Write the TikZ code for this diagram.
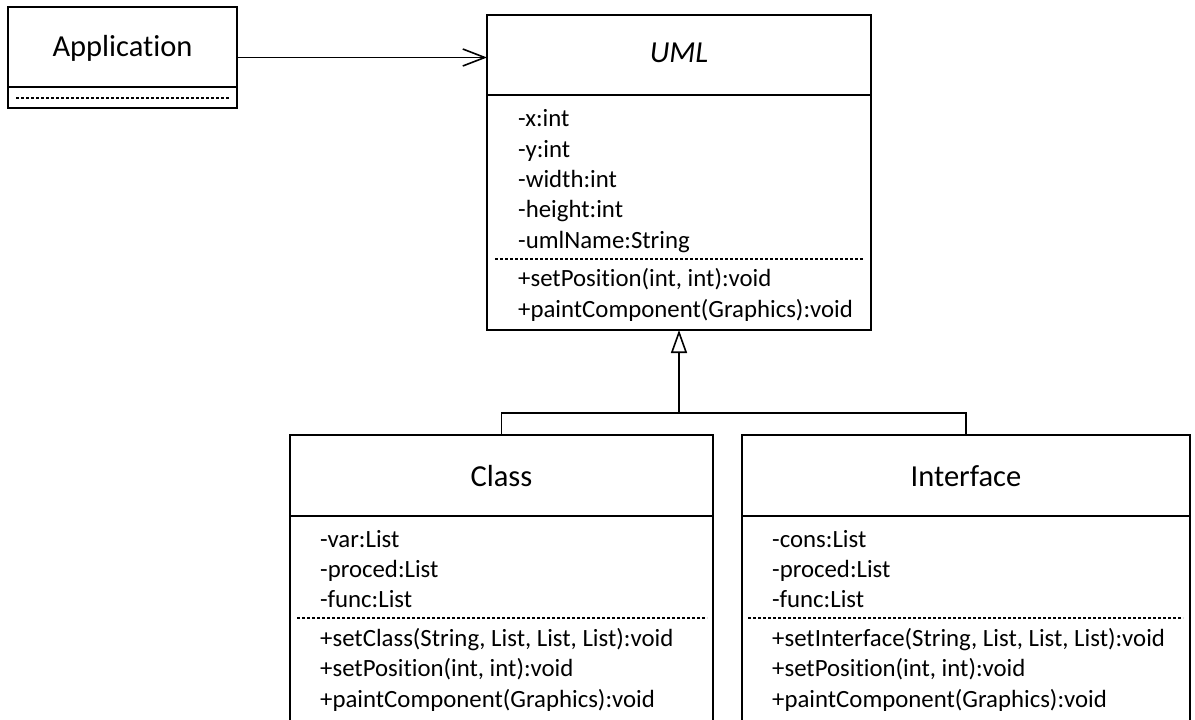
\documentclass[tikz,border=0pt]{standalone}
\usepackage{fontspec}
\setmainfont{Carlito}[Ligatures=NoCommon]
\usetikzlibrary{arrows.meta}
\begin{document}
\begin{tikzpicture}[x=1pt,y=-1pt,
  box/.style={draw,line width=1.8pt,rectangle,inner sep=0pt,outer sep=0pt,anchor=north west},
  title/.style={font=\fontsize{30.5}{36}\selectfont,anchor=base,inner sep=0pt},
  member/.style={font=\fontsize{24.8}{30}\selectfont,anchor=base west,inner sep=0pt},
  sep/.style={line width=1.8pt},
  dots/.style={line width=1.1pt,dash pattern=on 3pt off 2pt},
  assoc/.style={line width=1.6pt,-{Straight Barb[length=22pt,width=17pt,line width=1.6pt]}},
  gen/.style={line width=1.6pt,-{Triangle[open,length=23pt,width=16pt,line width=1.6pt]}},
  link/.style={line width=1.6pt}]
\useasboundingbox (0,0) rectangle (1195,720);

% Application class
\node[box,minimum width=229pt,minimum height=101pt] (app) at (8,7) {};
\draw[sep] (app.west |- 0,87) -- (app.east |- 0,87);
\draw[dots] (16,98) -- (229,98);
\node[title] at (app.north |- 0,56) {Application};

% UML abstract class
\node[box,minimum width=384pt,minimum height=315pt] (uml) at (487,15) {};
\draw[sep] (uml.west |- 0,95) -- (uml.east |- 0,95);
\node[title,font=\fontsize{30.5}{36}\selectfont\itshape] at (uml.north |- 0,62) {UML};
\node[member] at (518,126) {-x:int};
\node[member] at (518,157) {-y:int};
\node[member] at (518,187) {-width:int};
\node[member] at (518,217) {-height:int};
\node[member] at (518,248) {-umlName:String};
\draw[dots] (495,259) -- (863,259);
\node[member] at (518,286) {+setPosition(int, int):void};
\node[member] at (518,317) {+paintComponent(Graphics):void};

% Class
\node[box,minimum width=423pt,minimum height=300pt] (cls) at (290,435) {};
\draw[sep] (cls.west |- 0,516) -- (cls.east |- 0,516);
\node[title] at (cls.north |- 0,486) {Class};
\node[member] at (320,547) {-var:List};
\node[member] at (320,577) {-proced:List};
\node[member] at (320,607) {-func:List};
\draw[dots] (297,618) -- (707,618);
\node[member] at (320,646) {+setClass(String, List, List, List):void};
\node[member] at (320,676) {+setPosition(int, int):void};
\node[member] at (320,707) {+paintComponent(Graphics):void};

% Interface
\node[box,minimum width=448pt,minimum height=300pt] (ifc) at (742,435) {};
\draw[sep] (ifc.west |- 0,516) -- (ifc.east |- 0,516);
\node[title] at (ifc.north |- 0,486) {Interface};
\node[member] at (772,547) {-cons:List};
\node[member] at (772,577) {-proced:List};
\node[member] at (772,607) {-func:List};
\draw[dots] (748,618) -- (1183,618);
\node[member] at (772,646) {+setInterface(String, List, List, List):void};
\node[member] at (772,676) {+setPosition(int, int):void};
\node[member] at (772,707) {+paintComponent(Graphics):void};

% Relations
\draw[assoc] (app.east) -- (app.east -| uml.west);
\coordinate (bar) at (uml.south |- 0,413);
\draw[link] (cls.north) |- (bar) -| (ifc.north);
\draw[gen] (bar) -- (uml.south);
\end{tikzpicture}
\end{document}
